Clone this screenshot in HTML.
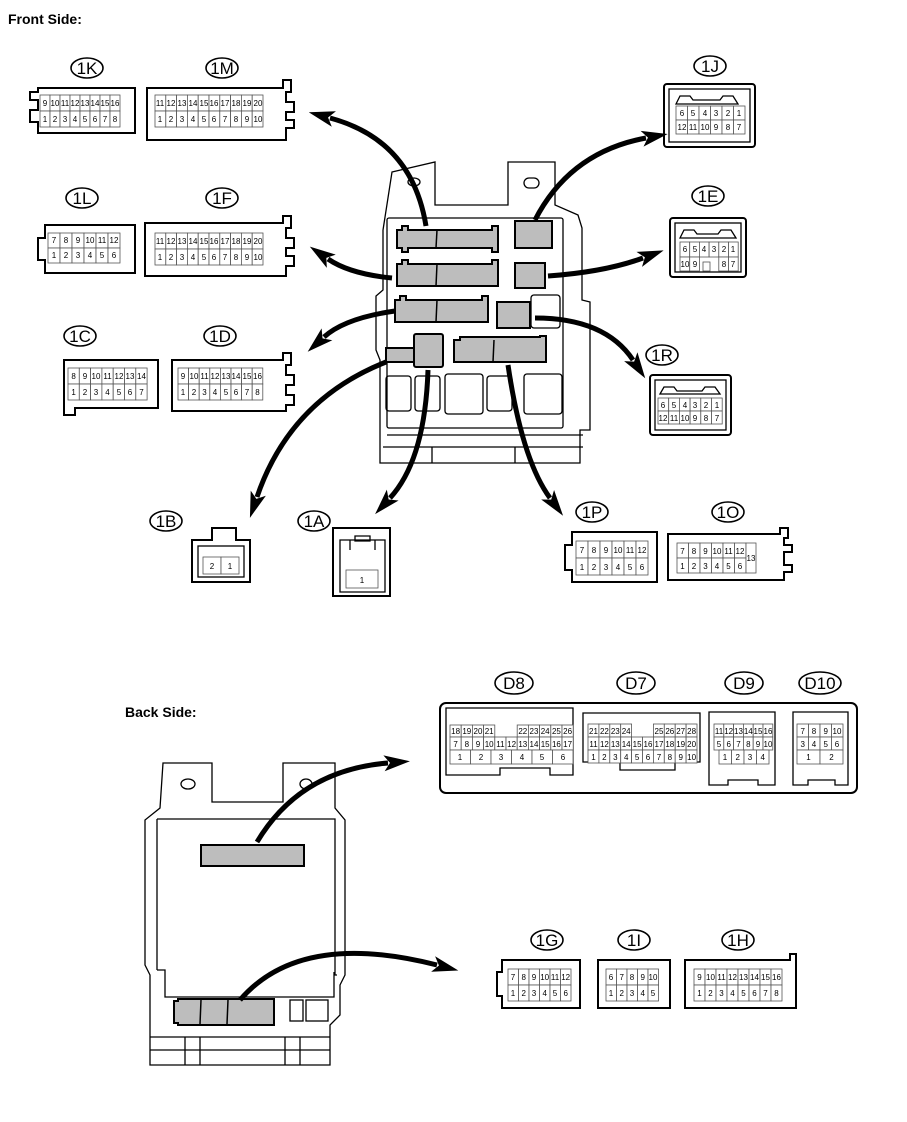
<!DOCTYPE html>
<html><head><meta charset="utf-8">
<style>
html,body{margin:0;padding:0;background:#fff;}
svg{display:block;font-family:"Liberation Sans",sans-serif;}
.o{fill:#fff;stroke:#000;stroke-width:2;}
.t{fill:none;stroke:#000;stroke-width:1.3;}
.c rect{fill:#fff;stroke:#555;stroke-width:.8;}
.c text{font-size:8px;text-anchor:middle;fill:#000;}
.lb ellipse{fill:#fff;stroke:#000;stroke-width:1.6;}
.lb text{font-size:17px;text-anchor:middle;}
.g{fill:#bdbdbd;stroke:#000;stroke-width:2;}
.ar{fill:none;stroke:#000;stroke-width:5;}
</style></head><body>
<svg width="907" height="1122" viewBox="0 0 907 1122">
<defs>
<marker id="m" markerUnits="userSpaceOnUse" markerWidth="26" markerHeight="20" refX="4" refY="10" orient="auto">
<path d="M0,2 L26,10 L0,18 L6,10 Z" fill="#000"/></marker>
</defs>
<text x="8" y="24" font-size="14" font-weight="bold">Front Side:</text>
<text x="125" y="717" font-size="14" font-weight="bold">Back Side:</text>

<!-- labels -->
<g class="lb">
<ellipse cx="87" cy="68" rx="16" ry="10"/><text x="87" y="74">1K</text>
<ellipse cx="222" cy="68" rx="16" ry="10"/><text x="222" y="74">1M</text>
<ellipse cx="710" cy="66" rx="16" ry="10"/><text x="710" y="72">1J</text>
<ellipse cx="82" cy="198" rx="16" ry="10"/><text x="82" y="204">1L</text>
<ellipse cx="222" cy="198" rx="16" ry="10"/><text x="222" y="204">1F</text>
<ellipse cx="708" cy="196" rx="16" ry="10"/><text x="708" y="202">1E</text>
<ellipse cx="80" cy="336" rx="16" ry="10"/><text x="80" y="342">1C</text>
<ellipse cx="220" cy="336" rx="16" ry="10"/><text x="220" y="342">1D</text>
<ellipse cx="662" cy="355" rx="16" ry="10"/><text x="662" y="361">1R</text>
<ellipse cx="166" cy="521" rx="16" ry="10"/><text x="166" y="527">1B</text>
<ellipse cx="314" cy="521" rx="16" ry="10"/><text x="314" y="527">1A</text>
<ellipse cx="592" cy="512" rx="16" ry="10"/><text x="592" y="518">1P</text>
<ellipse cx="728" cy="512" rx="16" ry="10"/><text x="728" y="518">1O</text>
<ellipse cx="514" cy="683" rx="19" ry="11"/><text x="514" y="689">D8</text>
<ellipse cx="636" cy="683" rx="19" ry="11"/><text x="636" y="689">D7</text>
<ellipse cx="744" cy="683" rx="19" ry="11"/><text x="744" y="689">D9</text>
<ellipse cx="820" cy="683" rx="21" ry="11"/><text x="820" y="689">D10</text>
<ellipse cx="547" cy="940" rx="16" ry="10"/><text x="547" y="946">1G</text>
<ellipse cx="634" cy="940" rx="16" ry="10"/><text x="634" y="946">1I</text>
<ellipse cx="738" cy="940" rx="16" ry="10"/><text x="738" y="946">1H</text>
</g>

<!-- connector bodies -->
<path class="o" d="M38,88 H135 V133 H38 V122 H30 V110 H38 V100 H30 V92 H38 Z"/>
<path class="o" d="M147,88 H283 V80 H291 V92 H286 V102 H294 V112 H286 V120 H294 V128 H286 V140 H147 Z"/>
<rect class="o" x="664" y="84" width="91" height="63" rx="3"/><rect class="t" x="669" y="89" width="81" height="53"/>
<path class="t" d="M676,104 L680,96 H690 L693,100 H720 L723,96 H733 L738,104 Z"/>
<path class="o" d="M45,225 H135 V273 H45 V260 H38 V238 H45 Z"/>
<path class="o" d="M145,223 H283 V216 H291 V228 H286 V238 H294 V248 H286 V256 H294 V266 H286 V276 H145 Z"/>
<rect class="o" x="670" y="218" width="76" height="59" rx="3"/><rect class="t" x="675" y="223" width="66" height="49"/>
<path class="t" d="M680,238 L684,230 H694 L697,234 H718 L721,230 H731 L736,238 Z"/>
<path class="o" d="M64,360 H158 V408 H75 V415 H64 Z"/>
<path class="o" d="M172,360 H283 V353 H291 V365 H286 V375 H294 V385 H286 V395 H294 V405 H286 V411 H172 Z"/>
<rect class="o" x="650" y="375" width="81" height="60" rx="3"/><rect class="t" x="655" y="380" width="71" height="50"/>
<path class="t" d="M660,394 L664,387 H674 L677,391 H702 L705,387 H715 L720,394 Z"/>
<path class="o" d="M192,540 H212 V528 H236 V540 H250 V582 H192 Z"/><rect class="t" x="198" y="546" width="46" height="31"/>
<path class="o" d="M333,528 H390 V596 H333 Z"/><path class="t" d="M340,540 H385 V592 H340 Z M350,540 V550 M375,540 V550 M355,536 H370 V541 H355 Z"/>
<path class="o" d="M572,532 H657 V582 H572 V570 H565 V545 H572 Z"/>
<path class="o" d="M668,534 H780 V528 H788 V538 H784 V545 H792 V552 H784 V565 H792 V572 H784 V580 H668 Z"/>
<!-- back side group -->
<rect class="o" x="440" y="703" width="417" height="90" rx="6"/>
<path class="t" d="M446,708 H573 V775 H550 V768 H500 V775 H446 Z"/>
<path class="t" d="M583,713 H700 V762 H675 V770 H620 V762 H583 Z"/>
<path class="t" d="M709,712 H775 V785 H758 V780 H728 V785 H709 Z"/>
<path class="t" d="M793,712 H848 V785 H835 V780 H808 V785 H793 Z"/>
<path class="o" d="M502,960 H580 V1008 H502 V996 H497 V972 H502 Z"/>
<rect class="o" x="598" y="960" width="72" height="48"/>
<path class="o" d="M685,960 H790 V954 H796 V1008 H685 Z"/>

<!-- cells -->
<g class="c">
<!-- 1K -->
<g>
<rect x="40" y="95" width="10" height="16"/><text x="45" y="106">9</text>
<rect x="50" y="95" width="10" height="16"/><text x="55" y="106">10</text>
<rect x="60" y="95" width="10" height="16"/><text x="65" y="106">11</text>
<rect x="70" y="95" width="10" height="16"/><text x="75" y="106">12</text>
<rect x="80" y="95" width="10" height="16"/><text x="85" y="106">13</text>
<rect x="90" y="95" width="10" height="16"/><text x="95" y="106">14</text>
<rect x="100" y="95" width="10" height="16"/><text x="105" y="106">15</text>
<rect x="110" y="95" width="10" height="16"/><text x="115" y="106">16</text>
<rect x="40" y="111" width="10" height="16"/><text x="45" y="122">1</text>
<rect x="50" y="111" width="10" height="16"/><text x="55" y="122">2</text>
<rect x="60" y="111" width="10" height="16"/><text x="65" y="122">3</text>
<rect x="70" y="111" width="10" height="16"/><text x="75" y="122">4</text>
<rect x="80" y="111" width="10" height="16"/><text x="85" y="122">5</text>
<rect x="90" y="111" width="10" height="16"/><text x="95" y="122">6</text>
<rect x="100" y="111" width="10" height="16"/><text x="105" y="122">7</text>
<rect x="110" y="111" width="10" height="16"/><text x="115" y="122">8</text>
</g>
<!-- 1M -->
<g>
<rect x="155" y="95" width="10.8" height="16"/><text x="160" y="106">11</text>
<rect x="165.8" y="95" width="10.8" height="16"/><text x="171" y="106">12</text>
<rect x="176.6" y="95" width="10.8" height="16"/><text x="182" y="106">13</text>
<rect x="187.4" y="95" width="10.8" height="16"/><text x="193" y="106">14</text>
<rect x="198.2" y="95" width="10.8" height="16"/><text x="204" y="106">15</text>
<rect x="209" y="95" width="10.8" height="16"/><text x="214" y="106">16</text>
<rect x="219.8" y="95" width="10.8" height="16"/><text x="225" y="106">17</text>
<rect x="230.6" y="95" width="10.8" height="16"/><text x="236" y="106">18</text>
<rect x="241.4" y="95" width="10.8" height="16"/><text x="247" y="106">19</text>
<rect x="252.2" y="95" width="10.8" height="16"/><text x="258" y="106">20</text>
<rect x="155" y="111" width="10.8" height="16"/><text x="160" y="122">1</text>
<rect x="165.8" y="111" width="10.8" height="16"/><text x="171" y="122">2</text>
<rect x="176.6" y="111" width="10.8" height="16"/><text x="182" y="122">3</text>
<rect x="187.4" y="111" width="10.8" height="16"/><text x="193" y="122">4</text>
<rect x="198.2" y="111" width="10.8" height="16"/><text x="204" y="122">5</text>
<rect x="209" y="111" width="10.8" height="16"/><text x="214" y="122">6</text>
<rect x="219.8" y="111" width="10.8" height="16"/><text x="225" y="122">7</text>
<rect x="230.6" y="111" width="10.8" height="16"/><text x="236" y="122">8</text>
<rect x="241.4" y="111" width="10.8" height="16"/><text x="247" y="122">9</text>
<rect x="252.2" y="111" width="10.8" height="16"/><text x="258" y="122">10</text>
</g>
<!-- 1J -->
<g>
<rect x="676" y="106" width="11.5" height="14"/><text x="682" y="116">6</text>
<rect x="687.5" y="106" width="11.5" height="14"/><text x="693" y="116">5</text>
<rect x="699" y="106" width="11.5" height="14"/><text x="705" y="116">4</text>
<rect x="710.5" y="106" width="11.5" height="14"/><text x="716" y="116">3</text>
<rect x="722" y="106" width="11.5" height="14"/><text x="728" y="116">2</text>
<rect x="733.5" y="106" width="11.5" height="14"/><text x="739" y="116">1</text>
<rect x="676" y="120" width="11.5" height="14"/><text x="682" y="130">12</text>
<rect x="687.5" y="120" width="11.5" height="14"/><text x="693" y="130">11</text>
<rect x="699" y="120" width="11.5" height="14"/><text x="705" y="130">10</text>
<rect x="710.5" y="120" width="11.5" height="14"/><text x="716" y="130">9</text>
<rect x="722" y="120" width="11.5" height="14"/><text x="728" y="130">8</text>
<rect x="733.5" y="120" width="11.5" height="14"/><text x="739" y="130">7</text>
</g>
<!-- 1L -->
<g>
<rect x="48" y="233" width="12" height="15"/><text x="54" y="243">7</text>
<rect x="60" y="233" width="12" height="15"/><text x="66" y="243">8</text>
<rect x="72" y="233" width="12" height="15"/><text x="78" y="243">9</text>
<rect x="84" y="233" width="12" height="15"/><text x="90" y="243">10</text>
<rect x="96" y="233" width="12" height="15"/><text x="102" y="243">11</text>
<rect x="108" y="233" width="12" height="15"/><text x="114" y="243">12</text>
<rect x="48" y="248" width="12" height="15"/><text x="54" y="258">1</text>
<rect x="60" y="248" width="12" height="15"/><text x="66" y="258">2</text>
<rect x="72" y="248" width="12" height="15"/><text x="78" y="258">3</text>
<rect x="84" y="248" width="12" height="15"/><text x="90" y="258">4</text>
<rect x="96" y="248" width="12" height="15"/><text x="102" y="258">5</text>
<rect x="108" y="248" width="12" height="15"/><text x="114" y="258">6</text>
</g>
<!-- 1F -->
<g>
<rect x="155" y="233" width="10.8" height="16"/><text x="160" y="244">11</text>
<rect x="165.8" y="233" width="10.8" height="16"/><text x="171" y="244">12</text>
<rect x="176.6" y="233" width="10.8" height="16"/><text x="182" y="244">13</text>
<rect x="187.4" y="233" width="10.8" height="16"/><text x="193" y="244">14</text>
<rect x="198.2" y="233" width="10.8" height="16"/><text x="204" y="244">15</text>
<rect x="209" y="233" width="10.8" height="16"/><text x="214" y="244">16</text>
<rect x="219.8" y="233" width="10.8" height="16"/><text x="225" y="244">17</text>
<rect x="230.6" y="233" width="10.8" height="16"/><text x="236" y="244">18</text>
<rect x="241.4" y="233" width="10.8" height="16"/><text x="247" y="244">19</text>
<rect x="252.2" y="233" width="10.8" height="16"/><text x="258" y="244">20</text>
<rect x="155" y="249" width="10.8" height="16"/><text x="160" y="260">1</text>
<rect x="165.8" y="249" width="10.8" height="16"/><text x="171" y="260">2</text>
<rect x="176.6" y="249" width="10.8" height="16"/><text x="182" y="260">3</text>
<rect x="187.4" y="249" width="10.8" height="16"/><text x="193" y="260">4</text>
<rect x="198.2" y="249" width="10.8" height="16"/><text x="204" y="260">5</text>
<rect x="209" y="249" width="10.8" height="16"/><text x="214" y="260">6</text>
<rect x="219.8" y="249" width="10.8" height="16"/><text x="225" y="260">7</text>
<rect x="230.6" y="249" width="10.8" height="16"/><text x="236" y="260">8</text>
<rect x="241.4" y="249" width="10.8" height="16"/><text x="247" y="260">9</text>
<rect x="252.2" y="249" width="10.8" height="16"/><text x="258" y="260">10</text>
</g>
<!-- 1E -->
<g>
<rect x="680" y="242" width="9.7" height="15"/><text x="685" y="252">6</text>
<rect x="689.7" y="242" width="9.7" height="15"/><text x="695" y="252">5</text>
<rect x="699.4" y="242" width="9.7" height="15"/><text x="704" y="252">4</text>
<rect x="709.1" y="242" width="9.7" height="15"/><text x="714" y="252">3</text>
<rect x="718.8" y="242" width="9.7" height="15"/><text x="724" y="252">2</text>
<rect x="728.5" y="242" width="9.7" height="15"/><text x="733" y="252">1</text>
<rect x="680" y="257" width="9.7" height="14"/><text x="685" y="267">10</text>
<rect x="689.7" y="257" width="9.7" height="14"/><text x="695" y="267">9</text>
<rect x="703" y="262" width="7" height="9"/>
<rect x="718.8" y="257" width="9.7" height="14"/><text x="724" y="267">8</text>
<rect x="728.5" y="257" width="9.7" height="14"/><text x="733" y="267">7</text>
</g>
<!-- 1C -->
<g>
<rect x="68" y="368" width="11.3" height="16"/><text x="73.6" y="379">8</text>
<rect x="79.3" y="368" width="11.3" height="16"/><text x="85" y="379">9</text>
<rect x="90.6" y="368" width="11.3" height="16"/><text x="96" y="379">10</text>
<rect x="101.9" y="368" width="11.3" height="16"/><text x="107.5" y="379">11</text>
<rect x="113.2" y="368" width="11.3" height="16"/><text x="119" y="379">12</text>
<rect x="124.5" y="368" width="11.3" height="16"/><text x="130" y="379">13</text>
<rect x="135.8" y="368" width="11.3" height="16"/><text x="141.5" y="379">14</text>
<rect x="68" y="384" width="11.3" height="16"/><text x="73.6" y="395">1</text>
<rect x="79.3" y="384" width="11.3" height="16"/><text x="85" y="395">2</text>
<rect x="90.6" y="384" width="11.3" height="16"/><text x="96" y="395">3</text>
<rect x="101.9" y="384" width="11.3" height="16"/><text x="107.5" y="395">4</text>
<rect x="113.2" y="384" width="11.3" height="16"/><text x="119" y="395">5</text>
<rect x="124.5" y="384" width="11.3" height="16"/><text x="130" y="395">6</text>
<rect x="135.8" y="384" width="11.3" height="16"/><text x="141.5" y="395">7</text>
</g>
<!-- 1D -->
<g>
<rect x="178" y="368" width="10.6" height="16"/><text x="183" y="379">9</text>
<rect x="188.6" y="368" width="10.6" height="16"/><text x="194" y="379">10</text>
<rect x="199.2" y="368" width="10.6" height="16"/><text x="204.5" y="379">11</text>
<rect x="209.8" y="368" width="10.6" height="16"/><text x="215" y="379">12</text>
<rect x="220.4" y="368" width="10.6" height="16"/><text x="226" y="379">13</text>
<rect x="231" y="368" width="10.6" height="16"/><text x="236" y="379">14</text>
<rect x="241.6" y="368" width="10.6" height="16"/><text x="247" y="379">15</text>
<rect x="252.2" y="368" width="10.6" height="16"/><text x="257.5" y="379">16</text>
<rect x="178" y="384" width="10.6" height="16"/><text x="183" y="395">1</text>
<rect x="188.6" y="384" width="10.6" height="16"/><text x="194" y="395">2</text>
<rect x="199.2" y="384" width="10.6" height="16"/><text x="204.5" y="395">3</text>
<rect x="209.8" y="384" width="10.6" height="16"/><text x="215" y="395">4</text>
<rect x="220.4" y="384" width="10.6" height="16"/><text x="226" y="395">5</text>
<rect x="231" y="384" width="10.6" height="16"/><text x="236" y="395">6</text>
<rect x="241.6" y="384" width="10.6" height="16"/><text x="247" y="395">7</text>
<rect x="252.2" y="384" width="10.6" height="16"/><text x="257.5" y="395">8</text>
</g>
<!-- 1R -->
<g>
<rect x="658" y="398" width="10.7" height="13"/><text x="663" y="408">6</text>
<rect x="668.7" y="398" width="10.7" height="13"/><text x="674" y="408">5</text>
<rect x="679.4" y="398" width="10.7" height="13"/><text x="685" y="408">4</text>
<rect x="690.1" y="398" width="10.7" height="13"/><text x="695" y="408">3</text>
<rect x="700.8" y="398" width="10.7" height="13"/><text x="706" y="408">2</text>
<rect x="711.5" y="398" width="10.7" height="13"/><text x="717" y="408">1</text>
<rect x="658" y="411" width="10.7" height="13"/><text x="663" y="421">12</text>
<rect x="668.7" y="411" width="10.7" height="13"/><text x="674" y="421">11</text>
<rect x="679.4" y="411" width="10.7" height="13"/><text x="685" y="421">10</text>
<rect x="690.1" y="411" width="10.7" height="13"/><text x="695" y="421">9</text>
<rect x="700.8" y="411" width="10.7" height="13"/><text x="706" y="421">8</text>
<rect x="711.5" y="411" width="10.7" height="13"/><text x="717" y="421">7</text>
</g>
<!-- 1B, 1A -->
<rect x="203" y="557" width="18" height="17"/><text x="212" y="569">2</text>
<rect x="221" y="557" width="18" height="17"/><text x="230" y="569">1</text>
<rect x="346" y="570" width="32" height="18"/><text x="362" y="583">1</text>
<!-- 1P -->
<g>
<rect x="576" y="541" width="12" height="17"/><text x="582" y="553">7</text>
<rect x="588" y="541" width="12" height="17"/><text x="594" y="553">8</text>
<rect x="600" y="541" width="12" height="17"/><text x="606" y="553">9</text>
<rect x="612" y="541" width="12" height="17"/><text x="618" y="553">10</text>
<rect x="624" y="541" width="12" height="17"/><text x="630" y="553">11</text>
<rect x="636" y="541" width="12" height="17"/><text x="642" y="553">12</text>
<rect x="576" y="558" width="12" height="17"/><text x="582" y="570">1</text>
<rect x="588" y="558" width="12" height="17"/><text x="594" y="570">2</text>
<rect x="600" y="558" width="12" height="17"/><text x="606" y="570">3</text>
<rect x="612" y="558" width="12" height="17"/><text x="618" y="570">4</text>
<rect x="624" y="558" width="12" height="17"/><text x="630" y="570">5</text>
<rect x="636" y="558" width="12" height="17"/><text x="642" y="570">6</text>
</g>
<!-- 1O -->
<g>
<rect x="677" y="543" width="11.5" height="15"/><text x="682.5" y="554">7</text>
<rect x="688.5" y="543" width="11.5" height="15"/><text x="694" y="554">8</text>
<rect x="700" y="543" width="11.5" height="15"/><text x="705.5" y="554">9</text>
<rect x="711.5" y="543" width="11.5" height="15"/><text x="717" y="554">10</text>
<rect x="723" y="543" width="11.5" height="15"/><text x="728.5" y="554">11</text>
<rect x="734.5" y="543" width="11.5" height="15"/><text x="740" y="554">12</text>
<rect x="677" y="558" width="11.5" height="15"/><text x="682.5" y="569">1</text>
<rect x="688.5" y="558" width="11.5" height="15"/><text x="694" y="569">2</text>
<rect x="700" y="558" width="11.5" height="15"/><text x="705.5" y="569">3</text>
<rect x="711.5" y="558" width="11.5" height="15"/><text x="717" y="569">4</text>
<rect x="723" y="558" width="11.5" height="15"/><text x="728.5" y="569">5</text>
<rect x="734.5" y="558" width="11.5" height="15"/><text x="740" y="569">6</text>
<rect x="746" y="543" width="10" height="30"/><text x="751" y="561">13</text>
</g>
<!-- D8 -->
<g>
<rect x="450" y="725" width="11.2" height="12"/><text x="455.6" y="734">18</text>
<rect x="461.2" y="725" width="11.2" height="12"/><text x="466.8" y="734">19</text>
<rect x="472.4" y="725" width="11.2" height="12"/><text x="478" y="734">20</text>
<rect x="483.6" y="725" width="11.2" height="12"/><text x="489.2" y="734">21</text>
<rect x="517.2" y="725" width="11.2" height="12"/><text x="522.8" y="734">22</text>
<rect x="528.4" y="725" width="11.2" height="12"/><text x="534" y="734">23</text>
<rect x="539.6" y="725" width="11.2" height="12"/><text x="545.2" y="734">24</text>
<rect x="550.8" y="725" width="11.2" height="12"/><text x="556.4" y="734">25</text>
<rect x="562" y="725" width="11.2" height="12"/><text x="567.6" y="734">26</text>
<rect x="450" y="737" width="11.2" height="13"/><text x="455.6" y="747">7</text>
<rect x="461.2" y="737" width="11.2" height="13"/><text x="466.8" y="747">8</text>
<rect x="472.4" y="737" width="11.2" height="13"/><text x="478" y="747">9</text>
<rect x="483.6" y="737" width="11.2" height="13"/><text x="489.2" y="747">10</text>
<rect x="494.8" y="737" width="11.2" height="13"/><text x="500.4" y="747">11</text>
<rect x="506" y="737" width="11.2" height="13"/><text x="511.6" y="747">12</text>
<rect x="517.2" y="737" width="11.2" height="13"/><text x="522.8" y="747">13</text>
<rect x="528.4" y="737" width="11.2" height="13"/><text x="534" y="747">14</text>
<rect x="539.6" y="737" width="11.2" height="13"/><text x="545.2" y="747">15</text>
<rect x="550.8" y="737" width="11.2" height="13"/><text x="556.4" y="747">16</text>
<rect x="562" y="737" width="11.2" height="13"/><text x="567.6" y="747">17</text>
<rect x="450" y="750" width="20.5" height="14"/><text x="460" y="760">1</text>
<rect x="470.5" y="750" width="20.5" height="14"/><text x="481" y="760">2</text>
<rect x="491" y="750" width="20.5" height="14"/><text x="501" y="760">3</text>
<rect x="511.5" y="750" width="20.5" height="14"/><text x="522" y="760">4</text>
<rect x="532" y="750" width="20.5" height="14"/><text x="542" y="760">5</text>
<rect x="552.5" y="750" width="20.5" height="14"/><text x="563" y="760">6</text>
</g>
<!-- D7 -->
<g>
<rect x="588" y="724" width="10.9" height="13"/><text x="593.5" y="734">21</text>
<rect x="598.9" y="724" width="10.9" height="13"/><text x="604.4" y="734">22</text>
<rect x="609.8" y="724" width="10.9" height="13"/><text x="615.3" y="734">23</text>
<rect x="620.7" y="724" width="10.9" height="13"/><text x="626.2" y="734">24</text>
<rect x="653.4" y="724" width="10.9" height="13"/><text x="659" y="734">25</text>
<rect x="664.3" y="724" width="10.9" height="13"/><text x="669.8" y="734">26</text>
<rect x="675.2" y="724" width="10.9" height="13"/><text x="680.7" y="734">27</text>
<rect x="686.1" y="724" width="10.9" height="13"/><text x="691.6" y="734">28</text>
<rect x="588" y="737" width="10.9" height="13"/><text x="593.5" y="747">11</text>
<rect x="598.9" y="737" width="10.9" height="13"/><text x="604.4" y="747">12</text>
<rect x="609.8" y="737" width="10.9" height="13"/><text x="615.3" y="747">13</text>
<rect x="620.7" y="737" width="10.9" height="13"/><text x="626.2" y="747">14</text>
<rect x="631.6" y="737" width="10.9" height="13"/><text x="637.1" y="747">15</text>
<rect x="642.5" y="737" width="10.9" height="13"/><text x="648" y="747">16</text>
<rect x="653.4" y="737" width="10.9" height="13"/><text x="659" y="747">17</text>
<rect x="664.3" y="737" width="10.9" height="13"/><text x="669.8" y="747">18</text>
<rect x="675.2" y="737" width="10.9" height="13"/><text x="680.7" y="747">19</text>
<rect x="686.1" y="737" width="10.9" height="13"/><text x="691.6" y="747">20</text>
<rect x="588" y="750" width="10.9" height="13"/><text x="593.5" y="760">1</text>
<rect x="598.9" y="750" width="10.9" height="13"/><text x="604.4" y="760">2</text>
<rect x="609.8" y="750" width="10.9" height="13"/><text x="615.3" y="760">3</text>
<rect x="620.7" y="750" width="10.9" height="13"/><text x="626.2" y="760">4</text>
<rect x="631.6" y="750" width="10.9" height="13"/><text x="637.1" y="760">5</text>
<rect x="642.5" y="750" width="10.9" height="13"/><text x="648" y="760">6</text>
<rect x="653.4" y="750" width="10.9" height="13"/><text x="659" y="760">7</text>
<rect x="664.3" y="750" width="10.9" height="13"/><text x="669.8" y="760">8</text>
<rect x="675.2" y="750" width="10.9" height="13"/><text x="680.7" y="760">9</text>
<rect x="686.1" y="750" width="10.9" height="13"/><text x="691.6" y="760">10</text>
</g>
<!-- D9 -->
<g>
<rect x="714" y="724" width="9.8" height="13"/><text x="719" y="734">11</text>
<rect x="723.8" y="724" width="9.8" height="13"/><text x="728.7" y="734">12</text>
<rect x="733.6" y="724" width="9.8" height="13"/><text x="738.5" y="734">13</text>
<rect x="743.4" y="724" width="9.8" height="13"/><text x="748.3" y="734">14</text>
<rect x="753.2" y="724" width="9.8" height="13"/><text x="758" y="734">15</text>
<rect x="763" y="724" width="9.8" height="13"/><text x="768" y="734">16</text>
<rect x="714" y="737" width="9.8" height="13"/><text x="719" y="747">5</text>
<rect x="723.8" y="737" width="9.8" height="13"/><text x="728.7" y="747">6</text>
<rect x="733.6" y="737" width="9.8" height="13"/><text x="738.5" y="747">7</text>
<rect x="743.4" y="737" width="9.8" height="13"/><text x="748.3" y="747">8</text>
<rect x="753.2" y="737" width="9.8" height="13"/><text x="758" y="747">9</text>
<rect x="763" y="737" width="9.8" height="13"/><text x="768" y="747">10</text>
<rect x="719" y="750" width="12.5" height="14"/><text x="725" y="760">1</text>
<rect x="731.5" y="750" width="12.5" height="14"/><text x="737.7" y="760">2</text>
<rect x="744" y="750" width="12.5" height="14"/><text x="750" y="760">3</text>
<rect x="756.5" y="750" width="12.5" height="14"/><text x="762.7" y="760">4</text>
</g>
<!-- D10 -->
<g>
<rect x="797" y="724" width="11.5" height="13"/><text x="802.7" y="734">7</text>
<rect x="808.5" y="724" width="11.5" height="13"/><text x="814" y="734">8</text>
<rect x="820" y="724" width="11.5" height="13"/><text x="825.7" y="734">9</text>
<rect x="831.5" y="724" width="11.5" height="13"/><text x="837" y="734">10</text>
<rect x="797" y="737" width="11.5" height="13"/><text x="802.7" y="747">3</text>
<rect x="808.5" y="737" width="11.5" height="13"/><text x="814" y="747">4</text>
<rect x="820" y="737" width="11.5" height="13"/><text x="825.7" y="747">5</text>
<rect x="831.5" y="737" width="11.5" height="13"/><text x="837" y="747">6</text>
<rect x="797" y="750" width="23" height="14"/><text x="808.5" y="760">1</text>
<rect x="820" y="750" width="23" height="14"/><text x="831.5" y="760">2</text>
</g>
<!-- 1G -->
<g>
<rect x="508" y="969" width="10.5" height="16"/><text x="513" y="980">7</text>
<rect x="518.5" y="969" width="10.5" height="16"/><text x="523.7" y="980">8</text>
<rect x="529" y="969" width="10.5" height="16"/><text x="534" y="980">9</text>
<rect x="539.5" y="969" width="10.5" height="16"/><text x="544.7" y="980">10</text>
<rect x="550" y="969" width="10.5" height="16"/><text x="555" y="980">11</text>
<rect x="560.5" y="969" width="10.5" height="16"/><text x="565.7" y="980">12</text>
<rect x="508" y="985" width="10.5" height="16"/><text x="513" y="996">1</text>
<rect x="518.5" y="985" width="10.5" height="16"/><text x="523.7" y="996">2</text>
<rect x="529" y="985" width="10.5" height="16"/><text x="534" y="996">3</text>
<rect x="539.5" y="985" width="10.5" height="16"/><text x="544.7" y="996">4</text>
<rect x="550" y="985" width="10.5" height="16"/><text x="555" y="996">5</text>
<rect x="560.5" y="985" width="10.5" height="16"/><text x="565.7" y="996">6</text>
</g>
<!-- 1I -->
<g>
<rect x="606" y="969" width="10.5" height="16"/><text x="611" y="980">6</text>
<rect x="616.5" y="969" width="10.5" height="16"/><text x="621.7" y="980">7</text>
<rect x="627" y="969" width="10.5" height="16"/><text x="632" y="980">8</text>
<rect x="637.5" y="969" width="10.5" height="16"/><text x="642.7" y="980">9</text>
<rect x="648" y="969" width="10.5" height="16"/><text x="653" y="980">10</text>
<rect x="606" y="985" width="10.5" height="16"/><text x="611" y="996">1</text>
<rect x="616.5" y="985" width="10.5" height="16"/><text x="621.7" y="996">2</text>
<rect x="627" y="985" width="10.5" height="16"/><text x="632" y="996">3</text>
<rect x="637.5" y="985" width="10.5" height="16"/><text x="642.7" y="996">4</text>
<rect x="648" y="985" width="10.5" height="16"/><text x="653" y="996">5</text>
</g>
<!-- 1H -->
<g>
<rect x="694" y="969" width="11" height="16"/><text x="699.5" y="980">9</text>
<rect x="705" y="969" width="11" height="16"/><text x="710.5" y="980">10</text>
<rect x="716" y="969" width="11" height="16"/><text x="721.5" y="980">11</text>
<rect x="727" y="969" width="11" height="16"/><text x="732.5" y="980">12</text>
<rect x="738" y="969" width="11" height="16"/><text x="743.5" y="980">13</text>
<rect x="749" y="969" width="11" height="16"/><text x="754.5" y="980">14</text>
<rect x="760" y="969" width="11" height="16"/><text x="765.5" y="980">15</text>
<rect x="771" y="969" width="11" height="16"/><text x="776.5" y="980">16</text>
<rect x="694" y="985" width="11" height="16"/><text x="699.5" y="996">1</text>
<rect x="705" y="985" width="11" height="16"/><text x="710.5" y="996">2</text>
<rect x="716" y="985" width="11" height="16"/><text x="721.5" y="996">3</text>
<rect x="727" y="985" width="11" height="16"/><text x="732.5" y="996">4</text>
<rect x="738" y="985" width="11" height="16"/><text x="743.5" y="996">5</text>
<rect x="749" y="985" width="11" height="16"/><text x="754.5" y="996">6</text>
<rect x="760" y="985" width="11" height="16"/><text x="765.5" y="996">7</text>
<rect x="771" y="985" width="11" height="16"/><text x="776.5" y="996">8</text>
</g>
</g>

<!-- central box (front) -->
<path class="t" d="M392,172 L435,162 V205 H508 V162 H555 V205 L578,215 L582,228 V300 L590,302 V430 H580 V463 H380 V360 L376,350 V296 L383,290 V230 Z"/>
<ellipse class="t" cx="414" cy="182" rx="6" ry="4"/>
<rect class="t" x="524" y="178" width="15" height="10" rx="5"/>
<rect class="t" x="387" y="218" width="176" height="210" rx="2"/>
<path class="g" d="M397,230 H402 V226 H408 V230 H492 V226 H498 V252 H492 V248 H408 V252 H402 V248 H397 Z"/>
<line x1="437" y1="230" x2="436" y2="248" stroke="#000" stroke-width="1.5"/>
<path class="g" d="M397,264 H402 V260 H408 V264 H492 V260 H498 V286 H492 V286 H402 V286 H397 Z"/>
<line x1="437" y1="264" x2="436" y2="286" stroke="#000" stroke-width="1.5"/>
<path class="g" d="M395,300 H400 V296 H406 V300 H482 V296 H488 V322 H482 V322 H400 H395 Z"/>
<line x1="437" y1="300" x2="436" y2="322" stroke="#000" stroke-width="1.5"/>
<path class="g" d="M454,340 H460 V337 H540 V336 H546 V362 H460 H454 Z"/>
<line x1="494" y1="340" x2="493" y2="362" stroke="#000" stroke-width="1.5"/>
<rect class="g" x="515" y="221" width="37" height="27"/>
<rect class="g" x="515" y="263" width="30" height="25"/>
<rect class="t" x="531" y="295" width="29" height="33" rx="3"/>
<rect class="g" x="497" y="302" width="33" height="26"/>
<rect class="g" x="386" y="348" width="28" height="14"/>
<rect class="g" x="414" y="334" width="29" height="33" rx="2"/>
<rect class="t" x="386" y="376" width="25" height="35" rx="3"/>
<rect class="t" x="415" y="376" width="25" height="35" rx="3"/>
<rect class="t" x="445" y="374" width="38" height="40" rx="3"/>
<rect class="t" x="487" y="376" width="25" height="35" rx="3"/>
<rect class="t" x="524" y="374" width="38" height="40" rx="3"/>
<line class="t" x1="387" y1="435" x2="583" y2="435"/>
<line class="t" x1="383" y1="447" x2="583" y2="447"/>
<line class="t" x1="432" y1="447" x2="432" y2="463"/>
<line class="t" x1="515" y1="447" x2="515" y2="463"/>

<!-- back box -->
<path class="t" d="M163,763 H212 V802 H283 V763 H335 V808 L345,820 V975 L340,985 V1015 L330,1025 V1065 H150 V975 L145,965 V820 L160,808 Z"/>
<ellipse class="t" cx="188" cy="784" rx="7" ry="5"/>
<ellipse class="t" cx="306" cy="784" rx="6" ry="5"/>
<path class="t" d="M157,819 H335 V975 H337 M157,819 V970"/>
<path class="t" d="M157,970 H165 V997 H334 V972"/>
<rect class="g" x="201" y="845" width="103" height="21"/>
<path class="g" d="M174,1001 H178 V999 H274 V1025 H178 V1023 H174 Z"/>
<line x1="201" y1="1000" x2="200" y2="1024" stroke="#000" stroke-width="1.5"/>
<line x1="228" y1="1000" x2="227" y2="1024" stroke="#000" stroke-width="1.5"/>
<rect class="t" x="290" y="1000" width="13" height="21"/>
<rect class="t" x="306" y="1000" width="22" height="21"/>
<line class="t" x1="150" y1="1037" x2="330" y2="1037"/>
<line class="t" x1="150" y1="1050" x2="330" y2="1050"/>
<line class="t" x1="185" y1="1037" x2="185" y2="1065"/>
<line class="t" x1="200" y1="1037" x2="200" y2="1065"/>
<line class="t" x1="285" y1="1037" x2="285" y2="1065"/>
<line class="t" x1="300" y1="1037" x2="300" y2="1065"/>

<!-- arrows -->
<g class="ar" marker-end="url(#m)">
<path d="M426,226 Q412,140 330,118"/>
<path d="M535,220 Q570,152 646,138"/>
<path d="M392,278 Q350,274 328,259"/>
<path d="M548,276 Q605,272 643,258"/>
<path d="M395,311 Q345,318 324,337"/>
<path d="M535,318 Q605,318 633,360"/>
<path d="M386,362 Q290,400 257,497"/>
<path d="M428,370 Q425,460 390,498"/>
<path d="M508,365 Q522,460 550,498"/>
<path d="M257,842 Q300,770 388,763"/>
<path d="M240,1000 Q300,930 437,965"/>
</g>
</svg>
</body></html>
